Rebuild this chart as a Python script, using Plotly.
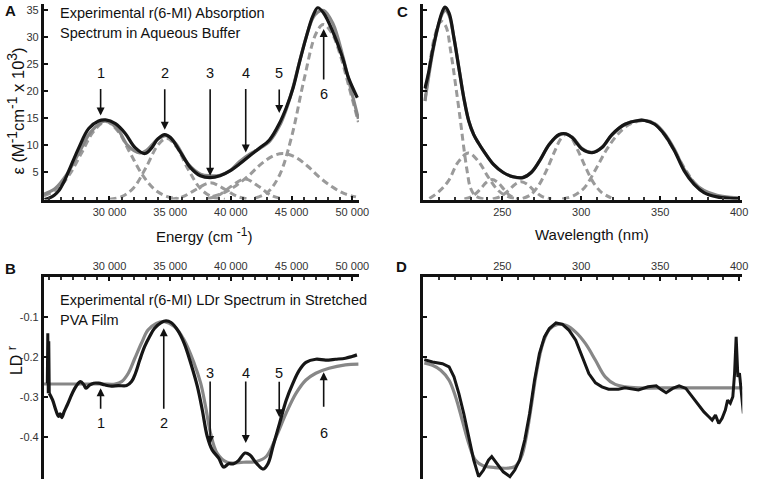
import plotly.graph_objects as go

# ---------------- Panel A : absorption vs energy (cm-1) ----------------
energy_exp = [24650, 25050, 25450, 25850, 26250, 26650, 27480, 28290, 29100, 29680, 30490, 31300,
              32110, 32930, 33420, 33980, 34550, 35040, 35850, 36670, 37480, 38290, 39110, 39920,
              40730, 41550, 42360, 43170, 43980, 44550, 45120, 45610, 46180, 46750, 47150, 47640,
              48370, 49190, 49680, 50410]
abs_exp = [0.0, 0.3, 0.8, 1.7, 3.3, 5.3, 9.6, 13.1, 14.5, 14.7, 14.0, 12.2,
           9.6, 8.5, 9.4, 11.2, 12.0, 11.4, 8.7, 5.9, 4.4, 4.05, 4.4, 5.3,
           6.6, 8.1, 9.5, 11.0, 14.0, 16.9, 20.6, 25.0, 29.8, 33.9, 35.4, 34.4,
           31.1, 26.2, 22.5, 18.8]

energy_fit = [24600, 25500, 26500, 27500, 28500, 29700, 30700, 31500, 32500, 33000, 33500, 34000,
              34700, 35500, 36500, 37500, 38300, 39100, 39900, 40700, 41550, 42350, 43200, 44000,
              44550, 45100, 45600, 46200, 46750, 47150, 47650, 48400, 49200, 49700, 50500]
abs_fit = [1.0, 2.0, 4.7, 8.7, 12.6, 14.5, 12.9, 10.0, 8.6, 9.0, 10.1, 11.2,
           11.8, 10.2, 6.5, 4.7, 4.4, 4.5, 5.3, 7.0, 8.4, 9.4, 10.8, 13.6,
           16.6, 20.6, 25.0, 30.0, 33.5, 34.6, 34.9, 32.5, 26.6, 22.0, 14.9]

# Gaussian components (dashed), energy axis
band1_E = [24600, 25700, 26700, 27700, 28700, 29700, 30700, 31700, 32700, 33700, 34700, 35700]
band1_A = [0.7, 1.9, 4.6, 8.6, 12.6, 14.4, 12.6, 8.6, 4.6, 1.9, 0.6, 0.15]
band2_E = [30000, 31000, 32000, 33000, 34000, 34700, 35500, 36500, 37500, 38500, 39500]
band2_A = [0.08, 0.55, 2.2, 5.9, 10.1, 11.3, 9.8, 5.5, 2.0, 0.45, 0.06]
band3_E = [35000, 36000, 37000, 38300, 39500, 40500, 41500]
band3_A = [0.07, 0.5, 1.7, 3.1, 1.9, 0.6, 0.09]
band4_E = [38000, 39000, 40000, 41150, 42300, 43300, 44300]
band4_A = [0.12, 0.8, 2.4, 3.8, 2.4, 0.8, 0.12]
band5_E = [38500, 39500, 40500, 41500, 42500, 43500, 44300, 45300, 46300, 47300, 48300, 49300, 50300]
band5_A = [0.6, 1.35, 2.7, 4.5, 6.6, 8.1, 8.5, 7.85, 6.2, 4.1, 2.4, 1.15, 0.5]
band6_E = [42000, 43000, 44000, 45000, 46000, 47000, 47600, 48300, 49000, 49700, 50500]
band6_A = [0.3, 1.3, 4.5, 11.6, 21.9, 30.6, 32.3, 30.8, 26.7, 21.0, 14.3]

# ---------------- Panel B : LDr vs energy ----------------
ldr_spike_E = [24880, 24920, 24960, 25000, 25041]
ldr_spike = [-0.265, -0.14, -0.29, -0.16, -0.29]
ldr_exp_E = [25041, 25312, 25583, 25800, 25935, 26070, 26260, 26530, 26938, 27263, 27615, 27886,
             28076, 28347, 28700, 29106, 29594, 30054, 30732, 31410, 31816, 32141, 32493, 32900,
             33306, 33713, 34255, 34661, 35068, 35610, 36152, 36694, 37236, 37642, 38049, 38455,
             38997, 39404, 39810, 40217, 40623, 41165, 41572, 42114, 42656, 43062, 43469, 44011,
             44553, 45095, 45637, 46179, 46992, 47805, 48618, 49431, 49973, 50379]
ldr_exp = [-0.29, -0.307, -0.3325, -0.348, -0.342, -0.351, -0.337, -0.319, -0.29, -0.272, -0.261, -0.269,
           -0.2775, -0.27, -0.265, -0.265, -0.269, -0.272, -0.271, -0.271, -0.261, -0.24, -0.207, -0.173,
           -0.148, -0.1275, -0.113, -0.109, -0.113, -0.132, -0.165, -0.215, -0.273, -0.332, -0.398, -0.432,
           -0.4525, -0.475, -0.467, -0.467, -0.459, -0.44, -0.445, -0.466, -0.48, -0.466, -0.423, -0.365,
           -0.3075, -0.266, -0.2325, -0.213, -0.205, -0.207, -0.205, -0.2025, -0.198, -0.194]
ldr_fit_E = [24600, 25500, 26500, 27500, 28500, 29500, 30460, 31000, 31550, 32090, 32630, 33170,
             33850, 34530, 35340, 36150, 36970, 37510, 37910, 38320, 38860, 39680, 41030, 42110,
             42930, 43740, 44550, 45370, 46180, 46990, 48080, 49430, 50500]
ldr_fit = [-0.267, -0.267, -0.267, -0.267, -0.267, -0.267, -0.267, -0.261, -0.24, -0.2025, -0.165, -0.132,
           -0.115, -0.111, -0.123, -0.157, -0.215, -0.265, -0.323, -0.39, -0.44, -0.463, -0.463, -0.461,
           -0.448, -0.398, -0.34, -0.29, -0.257, -0.24, -0.2275, -0.219, -0.217]

# ---------------- Panel C : absorption vs wavelength (nm) ----------------
wl_exp = [201, 203, 205.8, 209, 212, 213.75, 216.3, 219.4, 222.5, 225.6, 228.75, 231.9, 235,
          238.1, 244.4, 250.6, 256.9, 263.1, 268.3, 273.5, 279.8, 286, 290.2, 294.4, 300.6, 306.9,
          313.1, 319.4, 327.7, 336, 340.2, 346.5, 352.7, 359, 365.2, 371.5, 377.7, 386, 394.4, 399.6]
absC_exp = [20.5, 23.0, 27.4, 31.7, 34.7, 35.5, 34.4, 29.8, 24.3, 18.8, 14.5, 12.0, 10.4,
            9.0, 6.5, 5.0, 4.2, 4.05, 5.0, 7.1, 10.2, 12.0, 12.15, 11.4, 9.3, 8.65,
            9.6, 12.0, 13.9, 14.6, 14.6, 13.9, 12.0, 9.0, 5.3, 2.8, 1.3, 0.5, 0.25, 0.2]
wl_fit = [201, 203, 205.8, 209, 212, 214, 216.3, 219.4, 222.5, 225.6, 228.75, 231.9, 235,
          238.1, 244.4, 250.6, 256.9, 263.1, 268.3, 273.5, 279.8, 286, 290.2, 294.4, 300.6, 306.9,
          313.1, 319.4, 327.7, 336, 340.2, 346.5, 352.7, 359, 365.2, 371.5, 377.7, 386, 394.4, 400]
absC_fit = [18.2, 22.0, 27.0, 31.5, 34.3, 34.9, 34.0, 29.8, 24.3, 18.8, 14.5, 12.0, 10.4,
            9.0, 6.5, 5.0, 4.2, 4.1, 5.0, 7.1, 10.2, 11.9, 12.1, 11.5, 9.4, 8.7,
            9.6, 11.9, 13.9, 14.6, 14.6, 14.0, 12.2, 9.3, 5.6, 3.1, 1.7, 0.8, 0.4, 0.3]

bandC6_wl = [201, 203.75, 206.9, 211, 214.2, 217.3, 220.4, 223.5, 225.6, 227.7, 229.8, 232.9, 238]
bandC6 = [18.2, 24.3, 29.8, 32.9, 32.0, 27.4, 21.2, 14.5, 9.6, 5.3, 2.2, 0.7, 0.1]
bandC5_wl = [203.8, 210, 216, 222, 228.5, 235, 241, 247, 253, 260]
bandC5 = [0.2, 1.5, 3.5, 6.9, 8.6, 7.0, 4.2, 1.8, 0.6, 0.1]
bandC4_wl = [226, 231, 236, 240, 243.5, 247, 251, 255, 260]
bandC4 = [0.1, 0.6, 1.9, 3.2, 3.7, 3.2, 1.9, 0.7, 0.1]
bandC3_wl = [244, 249, 254, 258, 262, 266, 270, 275, 281]
bandC3 = [0.1, 0.6, 1.7, 2.8, 3.3, 2.8, 1.7, 0.6, 0.1]
bandC2_wl = [263, 268, 273, 278, 283, 287, 290, 293, 298, 303, 308, 313, 319]
bandC2 = [0.2, 0.9, 2.6, 5.4, 8.8, 11.2, 12.0, 11.7, 9.0, 5.8, 3.0, 1.3, 0.3]
bandC1_wl = [288, 295, 302, 309, 316, 323, 330, 337, 341, 346, 352, 359, 366, 372, 378, 386, 394, 400]
bandC1 = [0.1, 0.7, 2.2, 5.5, 9.2, 12.0, 13.8, 14.5, 14.6, 14.1, 12.2, 9.0, 5.5, 3.0, 1.5, 0.6, 0.3, 0.2]

# ---------------- Panel D : LDr vs wavelength ----------------
wlD_exp = [200.6, 205.8, 212.1, 216.3, 219.4, 222.5, 225.6, 228.75, 231.9, 235, 238.1, 241.25, 243.3,
           246.5, 250.6, 254.8, 257.9, 261, 264.2, 267.3, 270.4, 273.5, 276.7, 279.8, 284, 288.1,
           292.3, 296.5, 300.6, 304.8, 309, 313.1, 317.3, 323.5, 327.7, 334, 336.2, 342.3, 347.5,
           350.6, 353.75, 357.9, 362, 366.25, 370.4, 374.6, 377.7, 380.8, 382.9, 385, 387.1, 389.2,
           391.25, 392.7, 394.4, 396, 397.1, 398.1, 399.2, 400.2, 401.7, 402.7]
ldrD_exp = [-0.206, -0.212, -0.216, -0.224, -0.249, -0.291, -0.341, -0.399, -0.4575, -0.499, -0.4825, -0.4575, -0.449,
            -0.466, -0.487, -0.499, -0.4825, -0.4575, -0.4075, -0.341, -0.2575, -0.191, -0.149, -0.128, -0.114, -0.1175,
            -0.1325, -0.1575, -0.199, -0.241, -0.264, -0.274, -0.28, -0.28, -0.2767, -0.28, -0.282, -0.274, -0.2717,
            -0.281, -0.289, -0.278, -0.2717, -0.278, -0.299, -0.32, -0.337, -0.349, -0.3575, -0.345, -0.366, -0.353,
            -0.3325, -0.3075, -0.315, -0.299, -0.241, -0.149, -0.249, -0.24, -0.299, -0.341]
wlD_fit = [200.6, 205.8, 211, 216.3, 220.4, 224.6, 228.75, 232.9, 238.1, 244.4, 252.7, 257.9, 262.1,
           265.2, 268.3, 271.5, 275.6, 279.8, 285, 290.2, 296.5, 302.7, 309, 315.2, 321.5, 327.7, 336,
           360, 380, 403.5]
ldrD_fit = [-0.214, -0.22, -0.2325, -0.2575, -0.299, -0.3575, -0.416, -0.4575, -0.4725, -0.476, -0.478, -0.474, -0.449,
            -0.399, -0.324, -0.241, -0.166, -0.13, -0.1175, -0.12, -0.137, -0.166, -0.2075, -0.249, -0.268, -0.274, -0.2767,
            -0.2767, -0.2767, -0.2767]

# ---------------- ticks and labels ----------------
energy_ticks = [30000, 35000, 40000, 45000, 50000]
energy_ticktext = ["30 000", "35 000", "40 000", "45 000", "50 000"]
wl_ticks = [250, 300, 350, 400]
eps_ticks = [5, 10, 15, 20, 25, 30, 35]
ldr_ticks = [-0.4, -0.3, -0.2, -0.1]
ldr_ticktext = ["-0.4", "-0.3", "-0.2", "-0.1"]
band_labels = ["1", "2", "3", "4", "5", "6"]

# arrow markers (head position in data units, tail offset in px)
arrowA_E = [29270, 34550, 38290, 41220, 43980, 47640]
arrowA_tip = [15.5, 12.9, 4.4, 8.7, 16.0, 31.5]
arrowA_tail = [-28, -42, -88, -65, -25, 52]
labelA_y = [23.4, 23.4, 23.4, 23.4, 23.4, 19.5]
arrowB_E = [29270, 34470, 38290, 41220, 43980, 47640]
arrowB_tip = [-0.2775, -0.1275, -0.4175, -0.415, -0.35, -0.2375]
arrowB_tail = [22, 82, -64, -63, -37, 36]
labelB_y = [-0.365, -0.365, -0.24, -0.24, -0.24, -0.39]

FONT = "Liberation Sans, Arial, Helvetica, sans-serif"
BLACK = "#161616"
FITGRAY = "#878787"
DASHGRAY = "#9a9a9a"

fig = go.Figure()


def add(x, y, ax, color, width=3.2, dash=None, shape="spline"):
    fig.add_trace(go.Scatter(
        x=x, y=y, mode="lines", xaxis="x" + ax, yaxis="y" + ax,
        line=dict(color=color, width=width, dash=dash, shape=shape, smoothing=1.0),
        hoverinfo="skip", showlegend=False))


DASH = "7px,4px"
# Panel A
for bx, by in [(band1_E, band1_A), (band2_E, band2_A), (band3_E, band3_A),
               (band4_E, band4_A), (band5_E, band5_A), (band6_E, band6_A)]:
    add(bx, by, "", DASHGRAY, 3, DASH)
add(energy_fit, abs_fit, "", FITGRAY)
add(energy_exp, abs_exp, "", BLACK)
# Panel B
add(ldr_fit_E, ldr_fit, "2", FITGRAY)
add(ldr_spike_E, ldr_spike, "2", BLACK, 3, None, "linear")
add(ldr_exp_E, ldr_exp, "2", BLACK)
# Panel C
for bx, by in [(bandC1_wl, bandC1), (bandC2_wl, bandC2), (bandC3_wl, bandC3),
               (bandC4_wl, bandC4), (bandC5_wl, bandC5), (bandC6_wl, bandC6)]:
    add(bx, by, "3", DASHGRAY, 3, DASH)
add(wl_fit, absC_fit, "3", FITGRAY)
add(wl_exp, absC_exp, "3", BLACK)
# Panel D
add(wlD_fit, ldrD_fit, "4", FITGRAY)
add(wlD_exp, ldrD_exp, "4", BLACK, 3, None, "linear")

common = dict(showline=True, linewidth=3, linecolor="#111", showgrid=False, zeroline=False,
              ticks="inside", ticklen=4, tickwidth=2, tickcolor="#111",
              tickfont=dict(family=FONT, size=11, color="#333"))
minorE = dict(ticks="inside", ticklen=2.5, tickwidth=1.5, tickcolor="#333", tickmode="linear", tick0=0, dtick=1000)
minorW = dict(ticks="inside", ticklen=2.5, tickwidth=1.5, tickcolor="#333", tickmode="linear", tick0=0, dtick=10)

W, H = 760, 481
xA = [44.5 / W, 363.8 / W]
xC = [429 / W, 752.2 / W]
yTop = [1 - 199 / H, 1 - 3.5 / H]
yBot = [1 - 479 / H, 1 - 277 / H]

fig.update_layout(
    width=W, height=H, margin=dict(l=0, r=0, t=0, b=0),
    paper_bgcolor="white", plot_bgcolor="white", showlegend=False,
    font=dict(family=FONT, color="#222"),
    xaxis=dict(common, domain=xA, range=[24600, 50550], tickmode="array", tickvals=energy_ticks,
               ticktext=energy_ticktext, anchor="y", minor=minorE),
    yaxis=dict(common, domain=yTop, range=[0, 36], tickmode="array", tickvals=eps_ticks, anchor="x"),
    xaxis2=dict(common, domain=xA, range=[24600, 50550], tickmode="array", tickvals=energy_ticks,
                ticktext=energy_ticktext, anchor="y2", side="top", minor=minorE),
    yaxis2=dict(common, domain=yBot, range=[-0.505, 0], tickmode="array", tickvals=ldr_ticks,
                ticktext=ldr_ticktext, anchor="x2"),
    xaxis3=dict(common, domain=xC, range=[200, 402], tickmode="array", tickvals=wl_ticks,
                anchor="y3", minor=minorW),
    yaxis3=dict(common, domain=yTop, range=[0, 36], tickmode="array", tickvals=eps_ticks,
                showticklabels=False, anchor="x3"),
    xaxis4=dict(common, domain=xC, range=[200, 402], tickmode="array", tickvals=wl_ticks,
                anchor="y4", side="top", minor=minorW),
    yaxis4=dict(common, domain=yBot, range=[-0.505, 0], tickmode="array", tickvals=ldr_ticks,
                showticklabels=False, anchor="x4"),
)

ann = []


def ptxt(text, px, py, size=14.5, xanchor="left", bold=False, angle=0):
    ann.append(dict(text=("<b>%s</b>" % text) if bold else text, x=px / W, y=1 - py / H,
                    xref="paper", yref="paper", showarrow=False, xanchor=xanchor, yanchor="middle",
                    textangle=angle, font=dict(family=FONT, size=size, color="#111")))


def sup(s, size):
    return "<sup><span style='font-size:%dpx'>%s</span></sup>" % (size, s)


ptxt("A", 3, 10, 15, bold=True)
ptxt("B", 3, 268, 15, bold=True)
ptxt("C", 400, 11, 15, bold=True)
ptxt("D", 399, 266, 15, bold=True)
ptxt("Experimental r(6-MI) Absorption", 59, 12)
ptxt("Spectrum in Aqueous Buffer", 59, 32)
ptxt("Experimental r(6-MI) LDr Spectrum in Stretched", 59, 300)
ptxt("PVA Film", 59, 320)
ptxt("Energy (cm " + sup("-1", 12) + ")", 207, 234, 15, xanchor="center")
ptxt("Wavelength (nm)", 600, 234, 15, xanchor="center")
ptxt("ε (M" + sup("-1", 14) + "cm" + sup("-1", 14) + " x 10" + sup("3", 14) + ")",
     16, 110, 16.5, xanchor="center", angle=-90)
ptxt("LD " + sup("r", 13), 15, 360, 16, xanchor="center", angle=-90)

for i in range(6):
    ann.append(dict(x=arrowA_E[i], y=arrowA_tip[i], xref="x", yref="y", text="", showarrow=True,
                    ax=0, ay=arrowA_tail[i], arrowhead=2, arrowsize=1, arrowwidth=1.6,
                    arrowcolor="#111", standoff=0))
    ann.append(dict(x=arrowA_E[i], y=labelA_y[i], xref="x", yref="y", text=band_labels[i],
                    showarrow=False, font=dict(family=FONT, size=14.5, color="#111")))
    ann.append(dict(x=arrowB_E[i], y=arrowB_tip[i], xref="x2", yref="y2", text="", showarrow=True,
                    ax=0, ay=arrowB_tail[i], arrowhead=2, arrowsize=1, arrowwidth=1.6,
                    arrowcolor="#111", standoff=0))
    ann.append(dict(x=arrowB_E[i], y=labelB_y[i], xref="x2", yref="y2", text=band_labels[i],
                    showarrow=False, font=dict(family=FONT, size=14.5, color="#111")))

fig.update_layout(annotations=ann)
fig.write_html("out.html", config={"displayModeBar": False},
               post_script="document.body.style.margin='0px';")
